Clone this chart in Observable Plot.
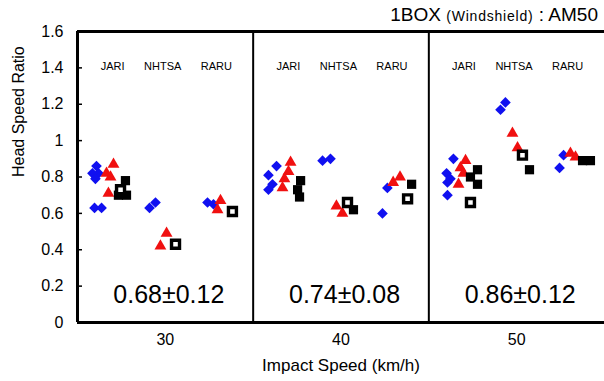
<!DOCTYPE html>
<html><head><meta charset="utf-8">
<script src="https://cdn.jsdelivr.net/npm/d3@7"></script>
<script src="https://cdn.jsdelivr.net/npm/@observablehq/plot@0.6"></script>
<style>body{margin:0;background:#fff} svg{display:block}</style>
</head><body><div id="chart"></div>
<script>
// ---- data ----
const speeds = [30, 40, 50];
const orgs = ["JARI", "NHTSA", "RARU"];
const stats = ["0.68±0.12", "0.74±0.08", "0.86±0.12"];
const yTicks = [0, 0.2, 0.4, 0.6, 0.8, 1.0, 1.2, 1.4, 1.6];
// [speed, slot within panel (0..1), head speed ratio]
const blueDiamonds = [
  [30,0.108,0.86],[30,0.120,0.82],[30,0.085,0.82],[30,0.102,0.79],[30,0.097,0.63],[30,0.137,0.63],
  [30,0.444,0.66],[30,0.410,0.63],
  [30,0.740,0.66],[30,0.774,0.65],
  [40,0.133,0.86],[40,0.087,0.81],[40,0.110,0.76],[40,0.087,0.73],
  [40,0.395,0.89],[40,0.440,0.90],
  [40,0.764,0.74],[40,0.736,0.60],
  [50,0.140,0.90],[50,0.101,0.82],[50,0.123,0.79],[50,0.106,0.77],[50,0.106,0.70],
  [50,0.436,1.21],[50,0.408,1.17],
  [50,0.744,0.85],[50,0.767,0.92]
];
const redTriangles = [
  [30,0.205,0.87],[30,0.165,0.82],[30,0.188,0.80],[30,0.176,0.71],
  [30,0.507,0.49],[30,0.472,0.42],
  [30,0.814,0.67],[30,0.797,0.62],
  [40,0.213,0.88],[40,0.201,0.83],[40,0.178,0.79],[40,0.167,0.74],
  [40,0.474,0.64],[40,0.508,0.60],
  [40,0.797,0.77],[40,0.836,0.80],
  [50,0.209,0.89],[50,0.180,0.85],[50,0.197,0.82],[50,0.169,0.76],
  [50,0.476,1.04],[50,0.505,0.96],
  [50,0.806,0.93],[50,0.835,0.91]
];
const blackSquares = [
  [30,0.273,0.78],[30,0.233,0.70],[30,0.279,0.70],
  [40,0.270,0.78],[40,0.253,0.73],[40,0.264,0.69],
  [40,0.571,0.62],
  [40,0.902,0.76],
  [50,0.277,0.84],[50,0.237,0.80],[50,0.277,0.76],
  [50,0.573,0.84],
  [50,0.875,0.89],[50,0.920,0.89]
];
const hollowSquares = [
  [30,0.245,0.73],[30,0.558,0.43],[30,0.882,0.61],
  [40,0.537,0.66],[40,0.879,0.68],
  [50,0.237,0.66],[50,0.533,0.92]
];

// ---- layout ----
const orgSlot = [0.2, 0.485, 0.79];
const px = d => speeds.indexOf(d[0]) + d[1];
const FONT = "'Liberation Sans', Arial, sans-serif";

const groupLabels = speeds.flatMap((s, i) => orgs.map((o, j) => ({x: i + orgSlot[j], text: o})));

const chart = Plot.plot({
  width: 604, height: 381,
  marginLeft: 77, marginRight: 0, marginTop: 31, marginBottom: 59,
  x: {domain: [0, 3], axis: null},
  y: {domain: [0, 1.6], axis: null},
  style: {fontFamily: FONT, color: "#000", background: "#fff"},
  marks: [
    Plot.axisY({ticks: yTicks, tickSize: -5, tickPadding: 19, fontSize: 16,
      tickFormat: d => String(+d.toFixed(1)), label: null, strokeWidth: 1.5}),
    Plot.ruleY([0, 1.6], {strokeWidth: 3}),
    Plot.ruleX([0], {strokeWidth: 3}),
    Plot.ruleX([1, 2], {strokeWidth: 2}),
    Plot.text(groupLabels, {x: "x", y: 1.41, text: "text", fontSize: 11}),
    Plot.dot(blueDiamonds, {x: px, y: d => d[2], symbol: "diamond2", r: 4.8, fill: "#1010f0"}),
    Plot.dot(redTriangles, {x: px, y: d => d[2], symbol: "triangle", r: 4.4, fill: "#f01010"}),
    Plot.dot(blackSquares, {x: px, y: d => d[2], symbol: "square", r: 5.2, fill: "#000"}),
    Plot.dot(hollowSquares, {x: px, y: d => d[2], symbol: "square", r: 4.5, fill: "#fff", stroke: "#000", strokeWidth: 3.4}),
    Plot.text(stats, {x: (d, i) => i + 0.52, y: 0.15, text: d => d, fontSize: 25}),
    Plot.text(speeds, {x: (d, i) => i + 0.5, y: 0, dy: 17, text: d => String(d), fontSize: 16}),
    Plot.text(["Impact Speed (km/h)"], {frameAnchor: "bottom", dy: 48, fontSize: 17}),
    Plot.text(["Head Speed Ratio"], {frameAnchor: "left", dx: -59, rotate: -90, fontSize: 16})
  ]
});
document.getElementById("chart").append(chart);

// title with smaller parenthetical
const t = d3.select(chart).append("text")
  .attr("x", 598).attr("y", 21).attr("text-anchor", "end")
  .attr("font-family", FONT).attr("fill", "#000");
t.append("tspan").attr("font-size", 19).text("1BOX ");
t.append("tspan").attr("font-size", 14).attr("letter-spacing", 0.8).text("(Windshield)");
t.append("tspan").attr("font-size", 19).text(" : AM50");
</script>
</body></html>
